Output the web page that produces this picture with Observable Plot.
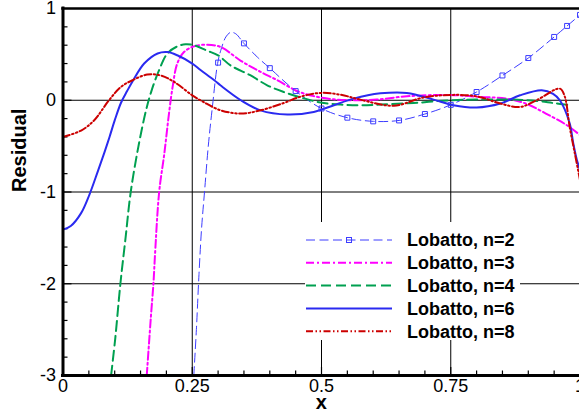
<!DOCTYPE html>
<html><head><meta charset="utf-8">
<script src="https://cdn.jsdelivr.net/npm/d3@7"></script>
<script src="https://cdn.jsdelivr.net/npm/@observablehq/plot@0.6"></script>
<style>
html,body{margin:0;padding:0;background:#fff;}
#wrap{position:relative;width:579px;height:417px;overflow:hidden;font-family:"Liberation Sans",Arial,Helvetica,sans-serif;}
#legend{position:absolute;left:305px;top:222px;width:215px;height:118px;background:#fff;}
#legend svg{overflow:visible;}
</style></head><body><div id="wrap"><div id="legend"></div></div>
<script>
// ---- data ----
const xDomain = [0, 1];
const yDomain = [-3, 1];
const xTicks = [0, 0.25, 0.5, 0.75, 1];
const yTicks = [-3, -2, -1, 0, 1];
const xGrid = [0.25, 0.5, 0.75];
const yGrid = [0, -1, -2];
const xMinor = [0.05,0.1,0.15,0.2,0.3,0.35,0.4,0.45,0.55,0.6,0.65,0.7,0.8,0.85,0.9,0.95];
const xMajor = [0.25,0.5,0.75];
const yMinor = [-2.8,-2.6,-2.4,-2.2,-1.8,-1.6,-1.4,-1.2,-0.8,-0.6,-0.4,-0.2,0.2,0.4,0.6,0.8];
const yMajor = [-2,-1,0];

const seriesLabels = ["Lobatto, n=2","Lobatto, n=3","Lobatto, n=4","Lobatto, n=6","Lobatto, n=8"];

const n2X = [0.253,0.258,0.263,0.268,0.274,0.281,0.289,0.299,0.305,0.315,0.324,0.334,0.35,0.376,0.40,0.45,0.50,0.55,0.60,0.65,0.70,0.75,0.80,0.85,0.90,0.95,0.975,1.0];
const n2Y = [-3.0,-2.5,-1.9,-1.4,-0.98,-0.5,-0.07,0.40,0.54,0.69,0.74,0.725,0.62,0.47,0.35,0.10,-0.09,-0.19,-0.23,-0.22,-0.15,-0.05,0.09,0.27,0.46,0.69,0.81,0.93];
const n2MarkX = [0.30,0.35,0.40,0.45,0.50,0.55,0.60,0.65,0.70,0.75,0.80,0.85,0.90,0.95,0.975,1.0];
const n2MarkY = [0.41,0.62,0.35,0.10,-0.09,-0.19,-0.23,-0.22,-0.15,-0.05,0.09,0.27,0.46,0.69,0.81,0.93];

const n3X = [0.162,0.17,0.175,0.178,0.186,0.196,0.205,0.212,0.221,0.234,0.253,0.279,0.305,0.344,0.382,0.414,0.453,0.485,0.524,0.562,0.607,0.665,0.743,0.807,0.858,0.895,0.934,0.974,1.0];
const n3Y = [-3.0,-2.36,-1.99,-1.68,-1.0,-0.58,-0.145,0.145,0.40,0.525,0.587,0.605,0.58,0.43,0.31,0.22,0.10,0.045,0.01,0.0,0.007,0.043,0.058,0.036,0.018,-0.036,-0.145,-0.27,-0.38];

const n4X = [0.093,0.101,0.111,0.121,0.131,0.146,0.161,0.171,0.186,0.202,0.221,0.237,0.253,0.279,0.30,0.324,0.363,0.395,0.427,0.46,0.498,0.537,0.575,0.614,0.678,0.749,0.80,0.871,0.916,0.948,0.981];
const n4Y = [-3.0,-2.6,-2.0,-1.5,-1.0,-0.5,-0.1,0.1,0.33,0.51,0.587,0.61,0.60,0.54,0.49,0.38,0.27,0.163,0.09,0.03,-0.025,-0.047,-0.054,-0.047,-0.03,0.0,0.007,0.007,-0.007,-0.03,-0.054];

const n6X = [0,0.015,0.035,0.051,0.067,0.08,0.09,0.1,0.112,0.124,0.135,0.157,0.183,0.202,0.221,0.25,0.266,0.292,0.305,0.344,0.382,0.434,0.485,0.524,0.562,0.614,0.665,0.717,0.755,0.80,0.846,0.884,0.926,0.948,0.961,0.98,0.987,0.994,1.0];
const n6Y = [-1.41,-1.37,-1.23,-1.03,-0.78,-0.57,-0.40,-0.22,-0.03,0.1,0.21,0.40,0.51,0.525,0.49,0.40,0.33,0.22,0.16,0.0,-0.11,-0.155,-0.127,-0.054,0.018,0.075,0.08,0.007,-0.054,-0.08,-0.036,0.054,0.11,0.07,0.0,-0.25,-0.47,-0.65,-0.76];

const n8X = [0,0.035,0.06,0.089,0.112,0.135,0.163,0.189,0.215,0.25,0.272,0.305,0.344,0.382,0.427,0.46,0.498,0.537,0.575,0.64,0.697,0.749,0.80,0.846,0.884,0.916,0.961,0.97,0.98,0.99,1.0];
const n8Y = [-0.40,-0.33,-0.22,0.0,0.145,0.22,0.28,0.27,0.2,0.054,-0.02,-0.11,-0.145,-0.11,-0.03,0.04,0.08,0.06,0.007,-0.06,0.03,0.058,0.043,-0.036,-0.073,0.0,0.127,0.05,-0.29,-0.58,-0.87];

// ---- styles ----
const seriesColors = ["#3c3cff","#ff00ff","#00a050","#2a2af0","#cc0000"];
const seriesWidths = [1, 2, 2, 2, 2];
const seriesDashes = ["9,4.5","8,3,2,3","10,5",null,"7,2.5,1.5,2.5,1.5,2.5"];

const pts = (xs, ys) => xs.map((x, i) => ({x, y: ys[i]}));
const seriesData = [pts(n2X,n2Y), pts(n3X,n3Y), pts(n4X,n4Y), pts(n6X,n6Y), pts(n8X,n8Y)];
const markData = pts(n2MarkX, n2MarkY);

const W = 579, H = 417, mL = 62.5, mR = 0, mT = 8, mB = 42;
const frameH = H - mT - mB, frameW = W - mL - mR;
const fmt = d => String(d);

const lineMarks = seriesData.map((data, i) => Plot.line(data, {
  x: "x", y: "y", curve: "catmull-rom", clip: true,
  stroke: seriesColors[i], strokeWidth: seriesWidths[i],
  strokeDasharray: seriesDashes[i] || undefined
}));

const chart = Plot.plot({
  width: W, height: H,
  marginLeft: mL, marginRight: mR, marginTop: mT, marginBottom: mB,
  style: {fontFamily: '"Liberation Sans", Arial, Helvetica, sans-serif', fontSize: "18px", background: "#fff", color: "#000", overflow: "visible"},
  x: {domain: xDomain, range: [mL, W + 0.5]},
  y: {domain: yDomain},
  marks: [
    Plot.ruleX(xGrid, {stroke: "#000", strokeWidth: 1}),
    Plot.ruleY(yGrid, {stroke: "#000", strokeWidth: 1}),
    Plot.ruleX(xMinor, {stroke: "#000", strokeWidth: 1.2, insetTop: frameH - 4.5}),
    Plot.ruleX(xMajor, {stroke: "#000", strokeWidth: 1.2, insetTop: frameH - 8}),
    Plot.ruleY(yMinor, {stroke: "#000", strokeWidth: 1.2, insetRight: frameW - 5}),
    Plot.ruleY(yMajor, {stroke: "#000", strokeWidth: 1.2, insetRight: frameW - 9}),
    ...lineMarks,
    Plot.dot(markData, {x: "x", y: "y", symbol: "square", r: 2.8, stroke: seriesColors[0], strokeWidth: 1, fill: "none", clip: true}),
    Plot.ruleX([xDomain[0]], {stroke: "#000", strokeWidth: 3, strokeLinecap: "square"}),
    Plot.ruleY([yDomain[1]], {stroke: "#000", strokeWidth: 2.5, strokeLinecap: "square"}),
    Plot.ruleY([yDomain[0]], {stroke: "#000", strokeWidth: 3, strokeLinecap: "square"}),
    Plot.axisX({ticks: xTicks, tickSize: 0, tickPadding: 4, tickFormat: fmt, label: null, fontSize: 18}),
    Plot.axisY({ticks: yTicks, tickSize: 0, tickPadding: 7, tickFormat: fmt, label: null, fontSize: 18}),
    Plot.text(["x"], {text: d => d, frameAnchor: "bottom", dy: 33, fontWeight: "bold", fontSize: 20}),
    Plot.text(["Residual"], {text: d => d, frameAnchor: "left", rotate: -90, dx: -43.5, fontWeight: "bold", fontSize: 20})
  ]
});
const wrap = document.getElementById("wrap");
wrap.insertBefore(chart, wrap.firstChild);

// ---- legend (inside the plot, white box) ----
const leg = d3.select("#legend").append("svg").attr("width", 215).attr("height", 118);
const rowY0 = 18, rowStep = 22.8;
seriesLabels.forEach((label, i) => {
  const y = rowY0 + i * rowStep;
  leg.append("line").attr("x1", 1).attr("x2", 87).attr("y1", y).attr("y2", y)
    .attr("stroke", seriesColors[i]).attr("stroke-width", seriesWidths[i])
    .attr("stroke-dasharray", seriesDashes[i]);
  if (i === 0) {
    leg.append("rect").attr("x", 41.5).attr("y", y - 2.5).attr("width", 5).attr("height", 5)
      .attr("fill", "none").attr("stroke", seriesColors[0]).attr("stroke-width", 1);
  }
  leg.append("text").attr("x", 102).attr("y", y + 6.4).text(label)
    .attr("font-family", '"Liberation Sans", Arial, Helvetica, sans-serif')
    .attr("font-weight", "bold").attr("font-size", 18).attr("fill", "#000");
});
</script>
</body></html>
